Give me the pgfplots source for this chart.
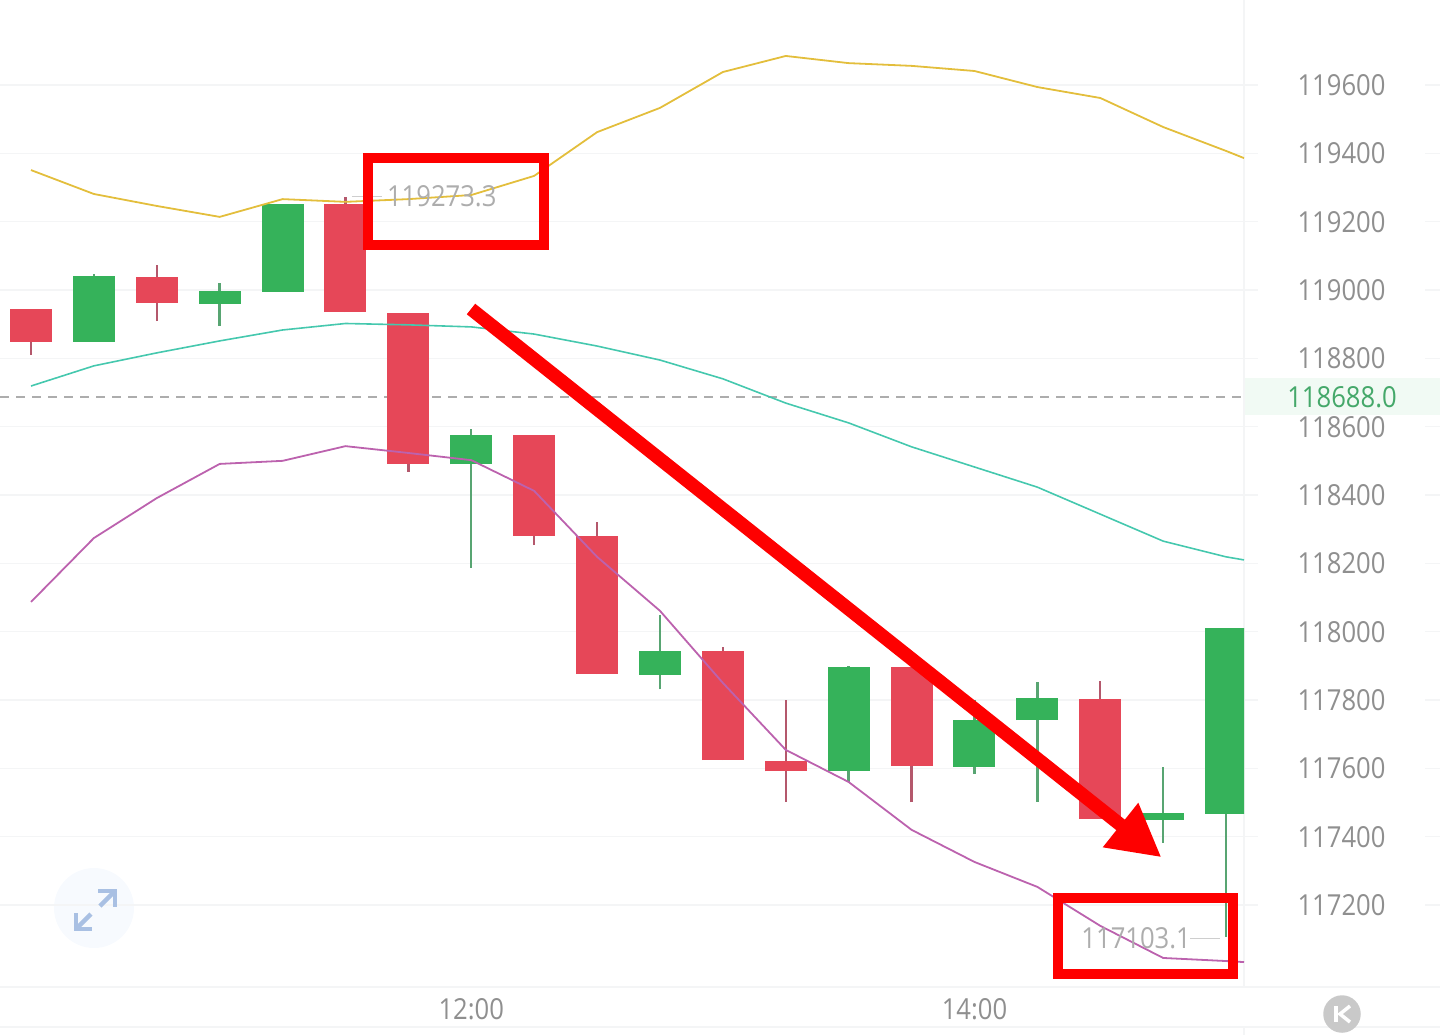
\documentclass[border=0pt]{standalone}
\usepackage{fontspec}
\setmainfont[FakeStretch=0.885]{Open Sans}
\usepackage{pgfplots}
\usepackage{pgfplotstable}
\pgfplotsset{compat=1.18}

\definecolor{cRed}{HTML}{E64758}
\definecolor{cGreen}{HTML}{35B25A}
\definecolor{wRed}{HTML}{B4586C}
\definecolor{wGreen}{HTML}{58A572}
\definecolor{cYellow}{HTML}{E3BE3C}
\definecolor{cTeal}{HTML}{45C8AE}
\definecolor{cMag}{HTML}{BC62AE}
\definecolor{gridc}{HTML}{F4F5F6}
\definecolor{tickc}{HTML}{8F8F8F}
\definecolor{noteg}{HTML}{ADADAD}
\definecolor{priceg}{HTML}{45A86A}
\definecolor{bandc}{HTML}{F1FAF4}
\definecolor{markup}{HTML}{FE0000}
\definecolor{iconbg}{HTML}{F7FAFE}
\definecolor{iconfg}{HTML}{A9C0E3}

\newcommand{\chartfont}{\fontsize{8.24}{10}\selectfont}

% x top bot high low, read in 15 minute steps
\pgfplotstableread{
x  top    bot    high   low
0  118945 118849 118945 118811
2  119039 118962 119073 118909
5  119251 118935 119273 118935
6  118933 118491 118933 118468
8  118576 118281 118576 118253
9  118280 117876 118320 117876
11 117943 117624 117954 117624
12 117622 117591 117800 117502
14 117897 117607 117897 117501
17 117804 117452 117856 117452
}\redcandles
\pgfplotstableread{
x  top    bot    high   low
1  119041 118848 119047 118848
3  118997 118960 119020 118896
4  119252 118995 119252 118995
7  118577 118490 118594 118187
10 117943 117874 118049 117831
13 117897 117592 117900 117560
15 117741 117604 117800 117583
16 117805 117741 117852 117502
18 117469 117450 117604 117382
19 118011 117467 118011 117107
}\greencandles
\pgfplotstableread{
x      upper  mid    lower
0      119351 118719 118087
1      119281 118778 118274
2      119246 118816 118391
3      119214 118851 118491
4      119266 118883 118500
5      119258 118902 118543
6      119266 118898 118523
7      119278 118892 118502
8      119334 118871 118412
9      119462 118836 118219
10     119533 118795 118061
11     119638 118740 117850
12     119685 118669 117654
13     119664 118611 117560
14     119656 118541 117420
15     119641 118482 117326
16     119594 118423 117253
17     119562 118344 117139
18     119477 118265 117045
19     119407 118219 117036
19.285 119386 118210 117033
}\bands

\pgfplotsset{
  px axis/.style={
    at={(0,0)}, anchor=south west, scale only axis,
    width=14.4cm, height=10.35cm,
    xmin=0, xmax=1440, ymin=0, ymax=1035, y dir=reverse,
    hide axis, unbounded coords=jump,
  },
  body/.style={draw=none, mark=none, forget plot, error bars/.cd, y dir=plus, y explicit, error mark=none,
    error bar style={line width=4.2mm, draw=#1}},
  wick/.style={draw=none, mark=none, forget plot, error bars/.cd, y dir=plus, y explicit, error mark=none,
    error bar style={line width=.24mm, draw=#1}},
}

\begin{document}
\begin{tikzpicture}
\useasboundingbox (0,0) rectangle (14.4cm,10.35cm);

% things behind the chart, in pixel coordinates of the screenshot
\begin{axis}[px axis]
\addplot[bandc, line width=3.7mm] coordinates {(1244,396.5) (1440,396.5)};
\addplot[gridc, line width=.15mm] coordinates {
  (1425,85) (1440,85) (1425,nan)
  (1425,153.3) (1440,153.3) (1425,nan)
  (1425,221.7) (1440,221.7) (1425,nan)
  (1425,290) (1440,290) (1425,nan)
  (1425,358.3) (1440,358.3) (1425,nan)
  (1425,426.7) (1440,426.7) (1425,nan)
  (1425,495) (1440,495) (1425,nan)
  (1425,563.3) (1440,563.3) (1425,nan)
  (1425,631.7) (1440,631.7) (1425,nan)
  (1425,700) (1440,700) (1425,nan)
  (1425,768.3) (1440,768.3) (1425,nan)
  (1425,836.7) (1440,836.7) (1425,nan)
  (1425,905) (1440,905)
};
\addplot[gridc, line width=.2mm] coordinates {(1244,0) (1244,987)};
\addplot[gridc, line width=.2mm] coordinates {(1244,1027) (1244,1035)};
\addplot[gridc, line width=.2mm] coordinates {(0,987) (1440,987)};
\addplot[gridc, line width=.2mm] coordinates {(0,1027) (1440,1027)};
\node[circle, fill=iconbg, minimum size=8mm, inner sep=0pt] at (axis cs:94,908) {};
\end{axis}

% the chart
\begin{axis}[
    at={(0,.48cm)}, anchor=south west, scale only axis,
    width=12.44cm, height=9.87cm,
    xmin=-0.4928, xmax=19.285,
    ymin=116960, ymax=119848.8,
    axis line style={draw=none},
    xtick={7,15}, xticklabels={12:00,14:00},
    x tick style={draw=none}, major tick length=1.4mm,
    x tick label style={font=\chartfont, text=tickc, yshift=1.45mm},
    ytick={117200,117400,117600,117800,118000,118200,118400,118600,118800,119000,119200,119400,119600},
    ymajorgrids, grid style={gridc, line width=.15mm},
    ytick pos=right, yticklabel pos=right, tick align=outside,
    y tick style={gridc, line width=.15mm},
    scaled y ticks=false,
    y tick label style={font=\chartfont, text=tickc, anchor=center, xshift=8.35mm,
      /pgf/number format/.cd, fixed, 1000 sep={}, assume math mode=true},
]
\addplot[forget plot, color=noteg, line width=.2mm, dash pattern=on .9mm off .7mm]
  coordinates {(-0.4928,118688) (19.285,118688)};

\addplot[wick=wRed] table[x=x, y=low, y error plus expr=\thisrow{high}-\thisrow{low}] {\redcandles};
\addplot[wick=wGreen] table[x=x, y=low, y error plus expr=\thisrow{high}-\thisrow{low}] {\greencandles};
\addplot[body=cRed] table[x=x, y=bot, y error plus expr=\thisrow{top}-\thisrow{bot}] {\redcandles};
\addplot[body=cGreen] table[x=x, y=bot, y error plus expr=\thisrow{top}-\thisrow{bot}] {\greencandles};

\addplot[cYellow, line width=.18mm] table[x=x, y=upper] {\bands};
\addplot[cTeal, line width=.16mm] table[x=x, y=mid] {\bands};
\addplot[cMag, line width=.18mm] table[x=x, y=lower] {\bands};

\addplot[noteg!60, line width=.12mm] coordinates {(5.10,119273.3) (5.58,119273.3)};
\addplot[noteg!60, line width=.12mm] coordinates {(18.43,117103.1) (18.90,117103.1)};
\node[font=\chartfont, text=noteg] at (axis cs:6.53,119273.3) {119273.3};
\node[font=\chartfont, text=noteg] at (axis cs:17.57,117103.1) {117103.1};
\end{axis}

% hand drawn marks on top, again in pixel coordinates
\begin{axis}[px axis]
\node[font=\chartfont, text=priceg] at (axis cs:1342,397) {118688.0};

\addplot[markup, line width=1mm] coordinates {(367.5,158) (544,158) (544,245) (367.5,245)} --cycle;
\addplot[markup, line width=1mm] coordinates {(1057.5,897.5) (1233,897.5) (1233,974) (1057.5,974)} --cycle;
\addplot[markup, line width=1.35mm] coordinates {(471,309) (1122,826)};
\addplot[fill=markup, draw=none] coordinates {(1138.3,802.7) (1160.7,856.7) (1102.7,847.3)} --cycle;

% expand icon
\addplot[color=iconfg, line width=.45mm] coordinates {(98,891) (115,891) (115,907)};
\addplot[color=iconfg, line width=.45mm] coordinates {(100,906) (115,891)};
\addplot[color=iconfg, line width=.45mm] coordinates {(76,913) (76,929) (92,929)};
\addplot[color=iconfg, line width=.45mm] coordinates {(76,929) (91,914)};

% K button
\node[circle, fill=black!21, minimum size=3.75mm, inner sep=0pt] at (axis cs:1342,1014) {};
\addplot[white, line width=.35mm] coordinates {(1336,1006) (1336,1022)};
\addplot[white, line width=.35mm] coordinates {(1350,1006) (1340,1014) (1350,1022)};
\end{axis}
\end{tikzpicture}
\end{document}
